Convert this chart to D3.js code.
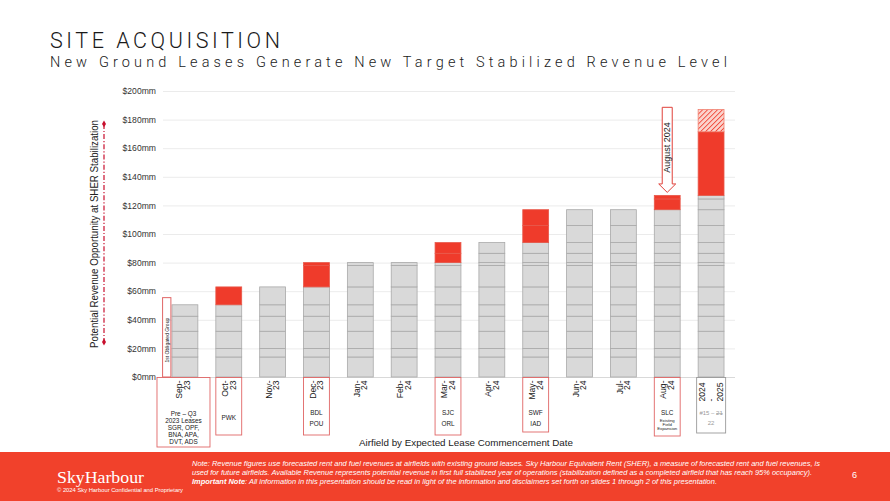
<!DOCTYPE html>
<html>
<head>
<meta charset="utf-8">
<script src="https://cdn.jsdelivr.net/npm/d3@7"></script>
<style>
  html, body { margin: 0; padding: 0; background: #fff; }
  svg { display: block; font-family: "Liberation Sans", Arial, sans-serif; }
</style>
</head>
<body>
<div id="chart"></div>
<script>
const WIDTH = 890;
const HEIGHT = 501;

// x categories and their stacked tick labels
const categories = ["Sep-23", "Oct-23", "Nov-23", "Dec-23", "Jan-24", "Feb-24", "Mar-24",
  "Apr-24", "May-24", "Jun-24", "Jul-24", "Aug-24", "2024-2025"];
const tickLabels = [["Sep-", "23"], ["Oct-", "23"], ["Nov-", "23"], ["Dec-", "23"], ["Jan-", "24"],
  ["Feb-", "24"], ["Mar-", "24"], ["Apr-", "24"], ["May-", "24"], ["Jun-", "24"], ["Jul-", "24"],
  ["Aug-", "24"], ["2024", "-", "2025"]];

// cumulative revenue ($mm) after each lease, and the month index it was signed
const leaseTops = [14, 20, 32, 42.5, 50.5, 63, 78, 80, 86.5, 94, 106, 117, 124.5, 127];
const leaseStart = [0, 0, 0, 0, 0, 1, 3, 3, 6, 6, 8, 8, 11, 11];

// 2024-2025 pipeline target and upside
const pipelineTarget = 171.5;
const pipelineUpside = 187;

// first obligated group level
const obligatedGroup = 55.5;

const yTicks = [0, 20, 40, 60, 80, 100, 120, 140, 160, 180, 200];

// airfield names shown under the month labels
const airfieldNotes = [
  ["Pre \u2013 Q3", "2023 Leases", "SGR, OPF,", "BNA, APA,", "DVT, ADS"],
  ["PWK"], [], ["BDL", "POU"], [], [], ["SJC", "ORL"], [], ["SWF", "IAD"], [], [],
  ["SLC", "Existing", "Field", "Expansion"],
  ["#15 \u2013 21", "22"]
];

const footNotes = [
  "Note: Revenue figures use forecasted rent and fuel revenues at airfields with existing ground leases. Sky Harbour Equivalent Rent (SHER), a measure of forecasted rent and fuel revenues, is",
  "used for future airfields. Available Revenue represents potential revenue in first full stabilized year of operations (stabilization defined as a completed airfield that has reach 95% occupancy)."
];
const importantNote = "All information in this presentation should be read in light of the information and disclaimers set forth on slides 1 through 2 of this presentation.";

const RED = "#ef3b2b";
const GRID_LEFT = 163, GRID_RIGHT = 735;

const svg = d3.select("#chart").append("svg")
  .attr("width", WIDTH)
  .attr("height", HEIGHT);

const defs = svg.append("defs");
const hatch = defs.append("pattern")
  .attr("id", "hatch")
  .attr("patternUnits", "userSpaceOnUse")
  .attr("width", 3.5)
  .attr("height", 3.5)
  .attr("patternTransform", "rotate(45)");
hatch.append("rect").attr("width", 3.5).attr("height", 3.5).attr("fill", "#fbd3cc");
hatch.append("line").attr("x1", 0).attr("y1", 0).attr("x2", 0).attr("y2", 3.5)
  .attr("stroke", RED).attr("stroke-width", 1.6);

// titles
svg.append("text")
  .attr("x", 50).attr("y", 47.5)
  .attr("font-family", "Roboto, 'Liberation Sans', sans-serif")
  .attr("font-weight", 300)
  .attr("font-size", 21.5)
  .attr("fill", "#1a1a1a")
  .attr("textLength", 230)
  .attr("lengthAdjust", "spacing")
  .text("SITE ACQUISITION");

svg.append("text")
  .attr("x", 50).attr("y", 67)
  .attr("font-family", "Roboto, 'Liberation Sans', sans-serif")
  .attr("font-weight", 300)
  .attr("font-size", 14.5)
  .attr("fill", "#1a1a1a")
  .attr("textLength", 677)
  .attr("lengthAdjust", "spacing")
  .text("New Ground Leases Generate New Target Stabilized Revenue Level");

// scales
const xScale = d3.scaleBand()
  .domain(categories)
  .range([GRID_LEFT, 733])
  .paddingInner(0.41)
  .paddingOuter(0.205);
const bw = xScale.bandwidth();

const yScale = d3.scaleLinear().domain([0, 200]).range([377, 91]);

// grid + y labels
const yAxis = svg.append("g")
  .attr("transform", "translate(" + GRID_LEFT + ",0)")
  .call(d3.axisLeft(yScale)
    .tickValues(yTicks)
    .tickSize(-(GRID_RIGHT - GRID_LEFT))
    .tickPadding(7)
    .tickFormat(d => "$" + d + "mm"));
yAxis.select(".domain").remove();
yAxis.selectAll(".tick line").attr("stroke", "#e6e6e6").attr("stroke-width", 0.8);
yAxis.selectAll(".tick text")
  .attr("font-size", 8.6)
  .attr("font-family", "Liberation Sans, Arial, sans-serif")
  .attr("fill", "#333");
yAxis.select(".tick line").attr("stroke", "#cfcfcf");

// y axis title and the red dash-dot marker
svg.append("text")
  .attr("transform", "translate(97.5," + yScale(100) + ") rotate(-90)")
  .attr("text-anchor", "middle")
  .attr("font-size", 10.4)
  .attr("fill", "#222")
  .attr("textLength", 228)
  .attr("lengthAdjust", "spacingAndGlyphs")
  .text("Potential Revenue Opportunity at SHER Stabilization");

svg.append("line")
  .attr("x1", 104).attr("x2", 104)
  .attr("y1", yScale(177)).attr("y2", yScale(24.5))
  .attr("stroke", "#c8102e")
  .attr("stroke-width", 1.2)
  .attr("stroke-dasharray", "5,2,1.2,2");
[177, 24.5].forEach(v => {
  svg.append("path")
    .attr("d", d3.symbol().type(d3.symbolDiamond).size(14)())
    .attr("transform", "translate(104," + yScale(v) + ")")
    .attr("fill", "#c8102e");
});

// stacked segments
const segments = [];
categories.forEach((c, i) => {
  let prev = 0;
  leaseTops.forEach((t, j) => {
    if (leaseStart[j] <= i) {
      segments.push({ cat: c, y0: prev, y1: t, kind: (leaseStart[j] === i && i > 0) ? "new" : "existing" });
      prev = t;
    }
  });
  if (i === categories.length - 1) {
    segments.push({ cat: c, y0: prev, y1: pipelineTarget, kind: "new" });
    segments.push({ cat: c, y0: pipelineTarget, y1: pipelineUpside, kind: "upside" });
  }
});

svg.append("g").selectAll("rect")
  .data(segments)
  .enter()
  .append("rect")
  .attr("x", d => xScale(d.cat))
  .attr("y", d => yScale(d.y1))
  .attr("width", bw)
  .attr("height", d => yScale(d.y0) - yScale(d.y1))
  .attr("fill", d => d.kind === "existing" ? "#d9d9d9" : (d.kind === "new" ? RED : "url(#hatch)"))
  .attr("stroke", d => d.kind === "existing" ? "#a9a9a9" : (d.kind === "new" ? "#e8584a" : "#f08070"))
  .attr("stroke-width", 0.8);

// 1st obligated group box
const sepX = xScale(categories[0]);
svg.append("rect")
  .attr("x", sepX - 9.4)
  .attr("y", yScale(obligatedGroup))
  .attr("width", 8.3)
  .attr("height", yScale(0) - yScale(obligatedGroup))
  .attr("fill", "#fff")
  .attr("stroke", "#e06666")
  .attr("stroke-width", 1);
svg.append("text")
  .attr("transform", "translate(" + (sepX - 5.25) + "," + yScale(obligatedGroup / 2 - 2) + ") rotate(-90)")
  .attr("text-anchor", "middle")
  .attr("dominant-baseline", "central")
  .attr("font-size", 5)
  .attr("fill", "#222")
  .text("1st Obligated Group");

// label boxes under the axis
const boxStyle = {
  0: { x0: -15, w: 53, bottom: 447, color: "#e06666" },
  1: { bottom: 435, color: "#e06666" },
  3: { bottom: 435, color: "#e06666" },
  6: { bottom: 435, color: "#e06666" },
  8: { bottom: 432, color: "#e06666" },
  11: { bottom: 436, color: "#e06666" },
  12: { x0: -1.5, w: 29, bottom: 433, color: "#9a9a9a" }
};
Object.keys(boxStyle).forEach(k => {
  const s = boxStyle[k];
  const x0 = xScale(categories[k]) + (s.x0 || 0);
  svg.append("rect")
    .attr("x", x0)
    .attr("y", 377.5)
    .attr("width", s.w || bw)
    .attr("height", s.bottom - 377.5)
    .attr("fill", "none")
    .attr("stroke", s.color)
    .attr("stroke-width", 0.9);
});

// month tick labels
const ticks = svg.append("g");
categories.forEach((c, i) => {
  const lines = tickLabels[i];
  const cx = xScale(c) + bw / 2 - (i === 0 ? 2 : 0);
  const last = i === categories.length - 1;
  const step = last ? 9 : 7.6;
  const t = ticks.append("text")
    .attr("transform", "translate(" + cx + "," + (last ? 401.5 : 380.5) + ") rotate(-90)")
    .attr("text-anchor", last ? "start" : "end")
    .attr("font-size", 8.6)
    .attr("fill", "#222");
  lines.forEach((l, k) => {
    t.append("tspan")
      .attr("x", 0)
      .attr("y", (k - (lines.length - 1) / 2) * step)
      .attr("dominant-baseline", "central")
      .text(l);
  });
});

// airfield notes
categories.forEach((c, i) => {
  const notes = airfieldNotes[i];
  if (!notes.length) return;
  const cx = i === 0 ? xScale(c) + 11.5 : xScale(c) + bw / 2;
  notes.forEach((n, k) => {
    let y, size = 6.4, fill = "#222";
    if (i === 0) { y = 413 + k * 7.2; }
    else if (i === 11) { y = k === 0 ? 412 : 420 + (k - 1) * 4; size = k === 0 ? 6.4 : 4.3; }
    else if (notes.length === 1) { y = 417.7; }
    else { y = 412.7 + k * 11.2; }
    if (i === 12) { fill = "#9a9a9a"; size = 6; y = 413.3 + k * 10; }
    const t = svg.append("text")
      .attr("x", cx)
      .attr("y", y)
      .attr("text-anchor", "middle")
      .attr("dominant-baseline", "central")
      .attr("font-size", size)
      .attr("fill", fill);
    if (i === 12 && k === 0) {
      const parts = n.split(" ");
      t.append("tspan").text(parts[0] + " " + parts[1] + " ");
      t.append("tspan").attr("text-decoration", "line-through").text(parts[2]);
    } else {
      t.text(n);
    }
  });
});

// x axis title
svg.append("text")
  .attr("x", 466).attr("y", 446)
  .attr("text-anchor", "middle")
  .attr("font-size", 9.8)
  .attr("fill", "#222")
  .text("Airfield by Expected Lease Commencement Date");

// August 2024 arrow
const ax = xScale("Aug-24") + bw / 2;
const aTop = yScale(188.6), aShaft = yScale(135), aTip = yScale(129.1);
svg.append("path")
  .attr("d", d3.line()([
    [ax - 5, aTop], [ax + 5, aTop], [ax + 5, aShaft], [ax + 8.5, aShaft],
    [ax, aTip], [ax - 8.5, aShaft], [ax - 5, aShaft]
  ]) + "Z")
  .attr("fill", "#fff")
  .attr("stroke", "#e0403a")
  .attr("stroke-width", 1);
svg.append("text")
  .attr("transform", "translate(" + ax + "," + yScale(160.5) + ") rotate(-90)")
  .attr("text-anchor", "middle")
  .attr("dominant-baseline", "central")
  .attr("font-size", 9)
  .attr("fill", "#222")
  .text("August 2024");

// footer
svg.append("rect")
  .attr("x", 0).attr("y", 452)
  .attr("width", WIDTH).attr("height", HEIGHT - 452)
  .attr("fill", "#f1412b");

svg.append("text")
  .attr("x", 57).attr("y", 483)
  .attr("font-family", "'Liberation Serif', 'DejaVu Serif', serif")
  .attr("font-size", 17.5)
  .attr("fill", "#fff")
  .attr("textLength", 87)
  .attr("lengthAdjust", "spacingAndGlyphs")
  .text("SkyHarbour");

svg.append("text")
  .attr("x", 57).attr("y", 491.5)
  .attr("font-size", 4.8)
  .attr("fill", "#fff")
  .attr("textLength", 126)
  .attr("lengthAdjust", "spacingAndGlyphs")
  .text("\u00a9 2024 Sky Harbour Confidential and Proprietary");

const noteEnds = [820, 812];
footNotes.forEach((n, k) => {
  svg.append("text")
    .attr("x", 192).attr("y", 465.5 + k * 9)
    .attr("font-size", 6.5)
    .attr("font-style", "italic")
    .attr("fill", "#fff")
    .attr("textLength", noteEnds[k] - 192)
    .attr("lengthAdjust", "spacingAndGlyphs")
    .text(n);
});
const imp = svg.append("text")
  .attr("x", 192).attr("y", 483.5)
  .attr("font-size", 6.5)
  .attr("font-style", "italic")
  .attr("fill", "#fff")
  .attr("textLength", 525)
  .attr("lengthAdjust", "spacingAndGlyphs");
imp.append("tspan").attr("font-weight", "bold").text("Important Note");
imp.append("tspan").text(":  " + importantNote);

svg.append("text")
  .attr("x", 852).attr("y", 478)
  .attr("font-size", 9)
  .attr("fill", "#fff")
  .text("6");
</script>
</body>
</html>
